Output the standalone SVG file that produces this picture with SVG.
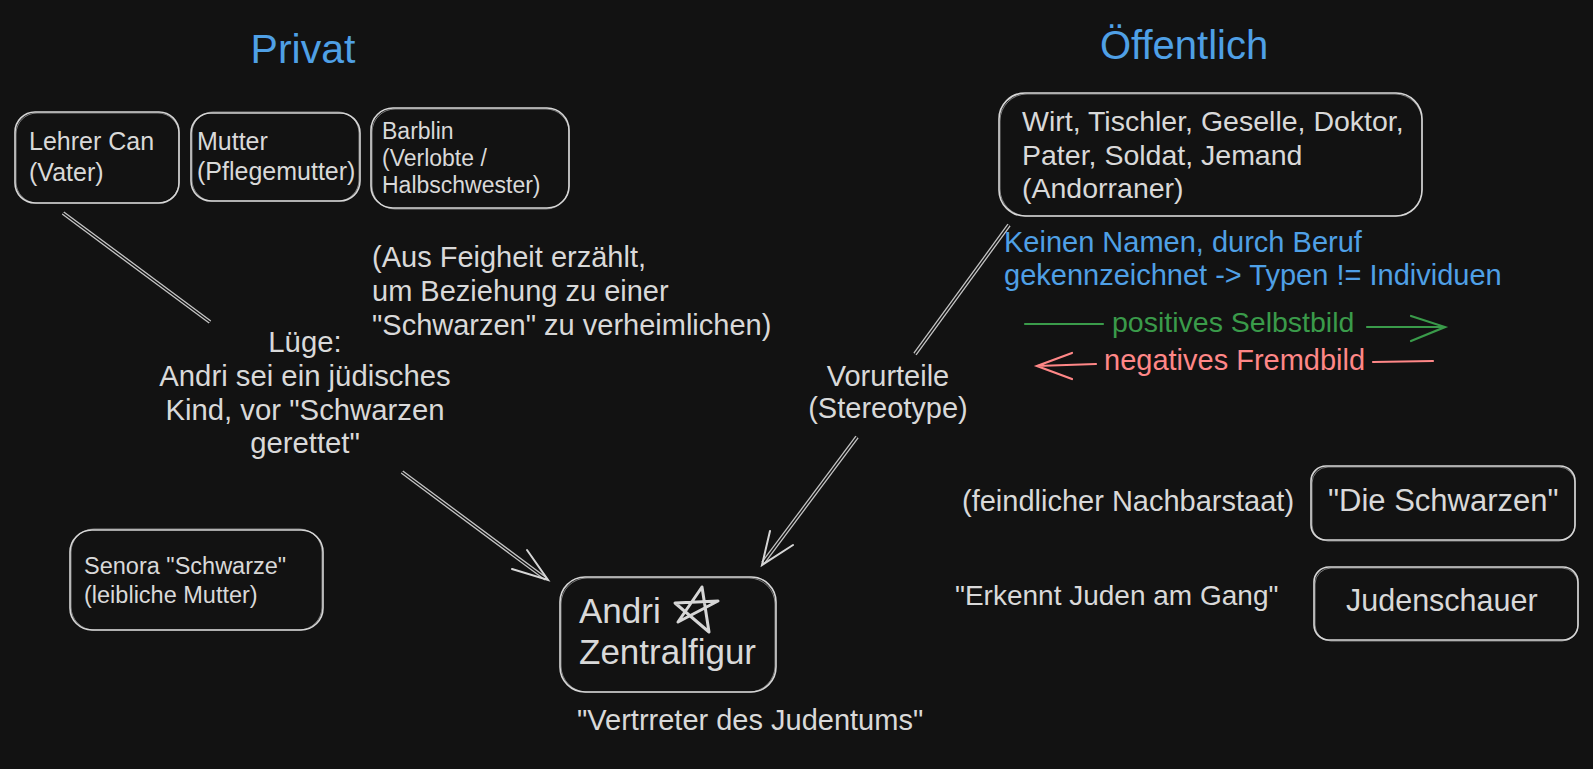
<svg xmlns="http://www.w3.org/2000/svg" width="1593" height="769" viewBox="0 0 1593 769">
<defs>
<style>
.bg{fill:#121212}
.box{fill:none;stroke:#d6d6d6;stroke-width:1.6}
.box2{fill:none;stroke:#d6d6d6;stroke-width:1;opacity:0.55}
.t{font-family:"Liberation Sans",Arial,sans-serif;fill:#d9d9d9}
.title{font-family:"Liberation Sans",Arial,sans-serif;fill:#4fa0e6}
.blue{fill:#4fa0e6}
.green{fill:#3a9b4a}
.red{fill:#ff8787}
.dl-out{fill:none;stroke:#c4c4c4;stroke-width:4;stroke-linecap:butt}
.dl-in{fill:none;stroke:#121212;stroke-width:1.4;stroke-linecap:butt}
.barb{fill:none;stroke:#d6d6d6;stroke-width:2;stroke-linecap:round}
.gl{fill:none;stroke:#3a9b4a;stroke-width:2.2;stroke-linecap:round}
.rl{fill:none;stroke:#ff8787;stroke-width:2.2;stroke-linecap:round}
</style>
</defs>
<rect class="bg" x="0" y="0" width="1593" height="769"/>

<g id="title-privat"><text class="title" x="303" y="63" font-size="41" text-anchor="middle">Privat</text></g>
<g id="title-oeffentlich"><text class="title" x="1100" y="59" font-size="40">Öffentlich</text></g>

<g id="connectors">
  <path class="dl-out" d="M63,213 L210,322"/><path class="dl-in" d="M63,213 L210,322"/>
  <path class="dl-out" d="M402,472 L546,579"/><path class="dl-in" d="M402,472 L546,579"/>
  <path class="barb" d="M527,550 L548,580 L512,569"/>
  <path class="dl-out" d="M1009,225 L915,354"/><path class="dl-in" d="M1009,225 L915,354"/>
  <path class="dl-out" d="M857,437 L763,563"/><path class="dl-in" d="M857,437 L763,563"/>
  <path class="barb" d="M770,531 L762,565 L793,545"/>
  <path class="gl" d="M1025,324 L1103,324"/>
  <path class="gl" d="M1367,327 L1445,327 M1411,316 L1445,327 L1411,341"/>
  <path class="rl" d="M1037,366 L1096,364 M1072,353 L1037,366 L1072,379"/>
  <path class="rl" d="M1373,362 L1433,361"/>
</g>

<g id="node-lehrer">
  <rect class="box" x="15" y="112" width="164" height="91" rx="20"/>
  <rect class="box2" x="16" y="113" width="163" height="90" rx="21"/>
  <text class="t" font-size="25"><tspan x="29" y="150">Lehrer Can</tspan><tspan x="29" y="181">(Vater)</tspan></text>
</g>
<g id="node-mutter">
  <rect class="box" x="191" y="113" width="169" height="88" rx="20"/>
  <rect class="box2" x="192" y="112" width="167" height="89" rx="21"/>
  <text class="t" font-size="25"><tspan x="197" y="150">Mutter</tspan><tspan x="197" y="180">(Pflegemutter)</tspan></text>
</g>
<g id="node-barblin">
  <rect class="box" x="371" y="108" width="198" height="100" rx="22"/>
  <rect class="box2" x="372" y="109" width="197" height="100" rx="23"/>
  <text class="t" font-size="23"><tspan x="382" y="139">Barblin</tspan><tspan x="382" y="166">(Verlobte /</tspan><tspan x="382" y="193">Halbschwester)</tspan></text>
</g>

<g id="label-feigheit">
  <text class="t" font-size="29"><tspan x="372" y="267">(Aus Feigheit erzählt,</tspan><tspan x="372" y="301">um Beziehung zu einer</tspan><tspan x="372" y="335">"Schwarzen" zu verheimlichen)</tspan></text>
</g>

<g id="label-luege">
  <text class="t" font-size="29.3" text-anchor="middle"><tspan x="305" y="352">Lüge:</tspan><tspan x="305" y="386">Andri sei ein jüdisches</tspan><tspan x="305" y="420">Kind, vor "Schwarzen</tspan><tspan x="305" y="453">gerettet"</tspan></text>
</g>

<g id="node-wirt">
  <rect class="box" x="999" y="93" width="423" height="123" rx="26"/>
  <rect class="box2" x="1000" y="94" width="422" height="122" rx="27"/>
  <text class="t" font-size="28.5"><tspan x="1022" y="131">Wirt, Tischler, Geselle, Doktor,</tspan><tspan x="1022" y="165">Pater, Soldat, Jemand</tspan><tspan x="1022" y="198">(Andorraner)</tspan></text>
</g>

<g id="label-keinen">
  <text class="title" font-size="29"><tspan x="1004" y="252">Keinen Namen, durch Beruf</tspan><tspan x="1004" y="285">gekennzeichnet -&gt; Typen != Individuen</tspan></text>
</g>
<g id="label-selbstbild"><text class="t green" x="1112" y="332" font-size="28.5">positives Selbstbild</text></g>
<g id="label-fremdbild"><text class="t red" x="1104" y="370" font-size="29">negatives Fremdbild</text></g>

<g id="label-vorurteile">
  <text class="t" font-size="29" text-anchor="middle"><tspan x="888" y="386">Vorurteile</tspan><tspan x="888" y="418">(Stereotype)</tspan></text>
</g>

<g id="node-andri">
  <rect class="box" x="560" y="577" width="216" height="115" rx="25"/>
  <rect class="box2" x="561" y="578" width="214" height="114" rx="26"/>
  <text class="t" font-size="35"><tspan x="579" y="623">Andri</tspan><tspan x="579" y="664">Zentralfigur</tspan></text>
  <path d="M702,587 L678,622 L718,601 L675,603 L709,632 L702,587" fill="none" stroke="#d6d6d6" stroke-width="3" stroke-linejoin="round" stroke-linecap="round"/>
</g>
<g id="label-vertreter"><text class="t" x="577" y="730" font-size="29">"Vertrreter des Judentums"</text></g>

<g id="node-senora">
  <rect class="box" x="70" y="530" width="253" height="100" rx="22"/>
  <rect class="box2" x="71" y="529" width="251" height="101" rx="23"/>
  <text class="t" font-size="23.5"><tspan x="84" y="574">Senora "Schwarze"</tspan><tspan x="84" y="603">(leibliche Mutter)</tspan></text>
</g>

<g id="label-feindlich"><text class="t" x="962" y="511" font-size="29">(feindlicher Nachbarstaat)</text></g>
<g id="node-schwarzen">
  <rect class="box" x="1311" y="466" width="264" height="74" rx="15"/>
  <rect class="box2" x="1312" y="467" width="263" height="74" rx="16"/>
  <text class="t" x="1328" y="511" font-size="31">"Die Schwarzen"</text>
</g>
<g id="label-erkennt"><text class="t" x="955" y="605" font-size="28">"Erkennt Juden am Gang"</text></g>
<g id="node-judenschauer">
  <rect class="box" x="1314" y="567" width="264" height="73" rx="15"/>
  <rect class="box2" x="1315" y="568" width="263" height="73" rx="16"/>
  <text class="t" x="1346" y="611" font-size="30.5">Judenschauer</text>
</g>
</svg>
